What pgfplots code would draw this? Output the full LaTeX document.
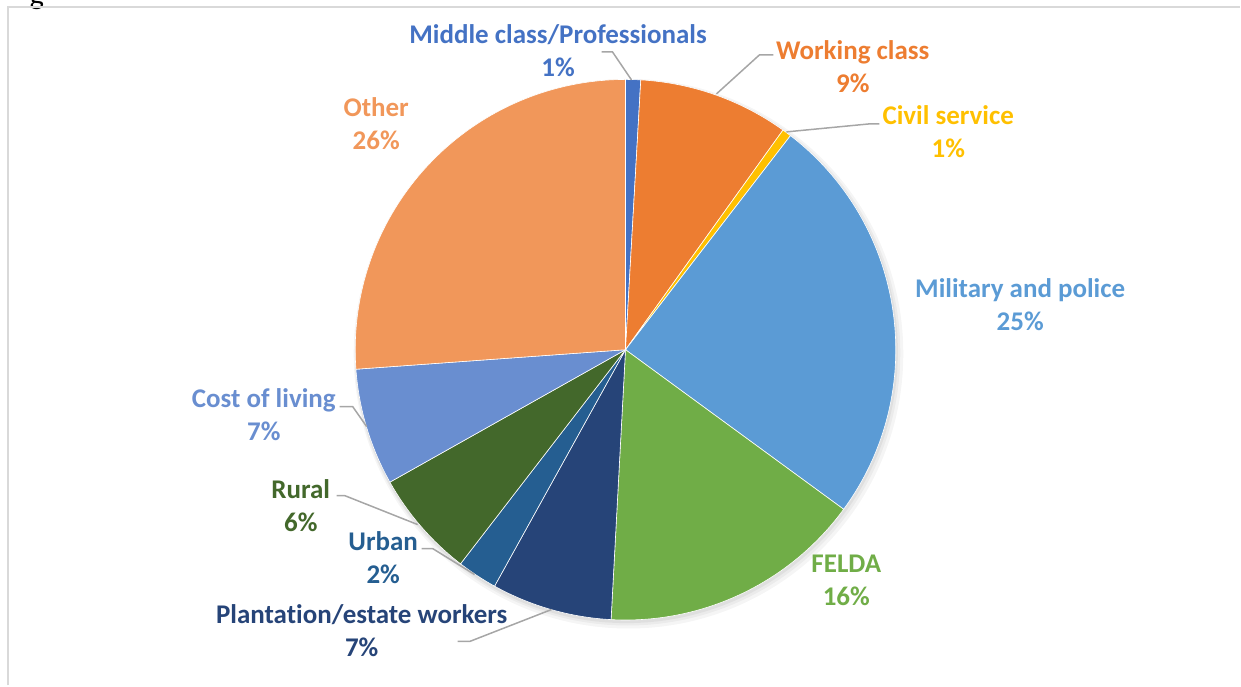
\documentclass[border=0pt]{standalone}
\usepackage{pgfplots}
\pgfplotsset{compat=1.18}
\usepackage{pgfplotstable}
\usepackage{fontspec}
\setmainfont{Carlito}[Ligatures=NoCommon]

\definecolor{cMid}{HTML}{4472C4}
\definecolor{cWork}{HTML}{ED7D31}
\definecolor{cCivil}{HTML}{FFC000}
\definecolor{cMil}{HTML}{5B9BD5}
\definecolor{cFelda}{HTML}{70AD47}
\definecolor{cPlant}{HTML}{264478}
\definecolor{cUrban}{HTML}{255E91}
\definecolor{cRural}{HTML}{43682B}
\definecolor{cCost}{HTML}{698ED0}
\definecolor{cOther}{HTML}{F1975A}
\definecolor{cLead}{HTML}{A6A6A6}
\definecolor{cFrame}{HTML}{D9D9D9}

% share in %, slice colour, label centre x and first baseline (pixels from top)
\pgfplotstableread[col sep=comma]{
name,value,col,lx,ly
Middle class/Professionals,0.9,cMid,558.5,43.5
Working class,9.0,cWork,853.5,59.5
Civil service,0.55,cCivil,949,125
Military and police,24.6,cMil,1021,297.5
FELDA,15.8,cFelda,847,573
Plantation/estate workers,7.2,cPlant,362,624
Urban,2.4,cUrban,383.5,551
Rural,6.4,cRural,301,498.5
Cost of living,7.0,cCost,264,407.5
Other,26.15,cOther,376.5,116.5
}\piedata

\begin{document}
\begin{tikzpicture}[font=\fontsize{13.5}{16}\selectfont\bfseries]
\begin{axis}[
    x=0.5pt, y=0.5pt,
    xmin=0, xmax=1241, ymin=0, ymax=686,
    hide axis, clip=false,
]
\path (axis cs:0,0) rectangle (axis cs:1241,686);
% cut-off caption letter above the frame
\node[overlay, anchor=base, inner sep=0pt, font=\fontsize{15}{18}\selectfont] at (axis cs:37,681) {g};
% frame
\draw[line width=1pt, cFrame] (axis cs:8,0) -- (axis cs:8,679) -- (axis cs:1241,679);

% soft shadow
\fill[black, opacity=0.04] (axis cs:629,332) circle[radius=137.5pt];
\fill[black, opacity=0.04] (axis cs:628,333) circle[radius=136.5pt];
\fill[black, opacity=0.05] (axis cs:627,334) circle[radius=135.8pt];

\pgfplotstablegetrowsof{\piedata}
\pgfmathtruncatemacro\lastrow{\pgfplotsretval-1}
\def\cum{0}
\pgfplotsforeachungrouped \i in {0,...,\lastrow}{%
  \pgfplotstablegetelem{\i}{value}\of\piedata \let\v\pgfplotsretval
  \pgfplotstablegetelem{\i}{col}\of\piedata \let\c\pgfplotsretval
  \pgfplotstablegetelem{\i}{name}\of\piedata \let\n\pgfplotsretval
  \pgfplotstablegetelem{\i}{lx}\of\piedata \let\lx\pgfplotsretval
  \pgfplotstablegetelem{\i}{ly}\of\piedata \let\ly\pgfplotsretval
  \pgfmathsetmacro\sa{90-3.6*\cum}
  \pgfmathsetmacro\ea{90-3.6*(\cum+\v)}
  \pgfmathsetmacro\cum{\cum+\v}
  \pgfmathtruncatemacro\p{round(\v)}
  \pgfmathsetmacro\yA{686-\ly}
  \pgfmathsetmacro\yB{686-\ly-33}
  \edef\temp{%
    \noexpand\fill[\c, draw=white, line width=0.3pt] (axis cs:626,336) -- ++(\sa:135.25pt)
      arc[start angle=\sa, end angle=\ea, radius=135.25pt] -- cycle;
    \noexpand\node[anchor=base, text=\c, inner sep=0pt] at (axis cs:\lx,\yA) {\n};
    \noexpand\node[anchor=base, text=\c, inner sep=0pt] at (axis cs:\lx,\yB) {\p\noexpand\%};
  }%
  \temp
}

% leader lines
\draw[cLead, line width=0.75pt] (axis cs:632,606) -- (axis cs:613,634) -- (axis cs:602,634);
\draw[cLead, line width=0.75pt] (axis cs:717,592) -- (axis cs:760,631) -- (axis cs:774,631);
\draw[cLead, line width=0.75pt] (axis cs:787,554) -- (axis cs:870,562) -- (axis cs:880,562);
\draw[cLead, line width=0.75pt] (axis cs:340,279) -- (axis cs:353,279) -- (axis cs:367,259);
\draw[cLead, line width=0.75pt] (axis cs:337,190) -- (axis cs:345,190) -- (axis cs:418,161);
\draw[cLead, line width=0.75pt] (axis cs:422,137) -- (axis cs:433,137) -- (axis cs:475,111);
\draw[cLead, line width=0.75pt] (axis cs:552,76) -- (axis cs:470,44) -- (axis cs:458,44);
\end{axis}
\end{tikzpicture}
\end{document}
